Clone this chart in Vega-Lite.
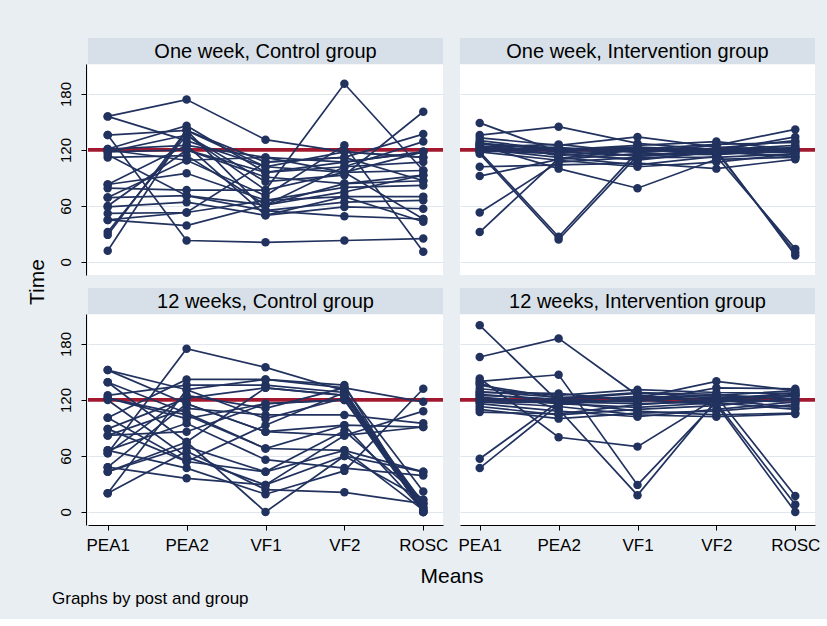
{
  "$schema": "https://vega.github.io/schema/vega-lite/v6.json",
  "background": "#e9eef2",
  "padding": {"left": 27, "top": 38, "right": 10, "bottom": 12},
  "data": {"values": [
    {"post":"One week","group":"Control group","id":1,"PEA1":156,"PEA2":174,"VF1":131,"VF2":118,"ROSC":112},
    {"post":"One week","group":"Control group","id":2,"PEA1":156,"PEA2":130,"VF1":102,"VF2":96,"ROSC":98},
    {"post":"One week","group":"Control group","id":3,"PEA1":136,"PEA2":23,"VF1":21,"VF2":23,"ROSC":25},
    {"post":"One week","group":"Control group","id":4,"PEA1":136,"PEA2":141,"VF1":107,"VF2":112,"ROSC":137},
    {"post":"One week","group":"Control group","id":5,"PEA1":121,"PEA2":146,"VF1":96,"VF2":102,"ROSC":129},
    {"post":"One week","group":"Control group","id":6,"PEA1":121,"PEA2":125,"VF1":112,"VF2":107,"ROSC":118},
    {"post":"One week","group":"Control group","id":7,"PEA1":118,"PEA2":136,"VF1":86,"VF2":93,"ROSC":161},
    {"post":"One week","group":"Control group","id":8,"PEA1":118,"PEA2":120,"VF1":91,"VF2":84,"ROSC":87},
    {"post":"One week","group":"Control group","id":9,"PEA1":112,"PEA2":114,"VF1":61,"VF2":75,"ROSC":93},
    {"post":"One week","group":"Control group","id":10,"PEA1":120,"PEA2":109,"VF1":71,"VF2":125,"ROSC":11},
    {"post":"One week","group":"Control group","id":11,"PEA1":83,"PEA2":95,"VF1":66,"VF2":80,"ROSC":82},
    {"post":"One week","group":"Control group","id":12,"PEA1":79,"PEA2":77,"VF1":77,"VF2":191,"ROSC":98},
    {"post":"One week","group":"Control group","id":13,"PEA1":69,"PEA2":71,"VF1":55,"VF2":64,"ROSC":66},
    {"post":"One week","group":"Control group","id":14,"PEA1":59,"PEA2":64,"VF1":50,"VF2":59,"ROSC":57},
    {"post":"One week","group":"Control group","id":15,"PEA1":52,"PEA2":53,"VF1":66,"VF2":70,"ROSC":70},
    {"post":"One week","group":"Control group","id":16,"PEA1":45,"PEA2":39,"VF1":61,"VF2":102,"ROSC":107},
    {"post":"One week","group":"Control group","id":17,"PEA1":32,"PEA2":136,"VF1":77,"VF2":96,"ROSC":118},
    {"post":"One week","group":"Control group","id":18,"PEA1":29,"PEA2":141,"VF1":55,"VF2":49,"ROSC":46},
    {"post":"One week","group":"Control group","id":19,"PEA1":12,"PEA2":141,"VF1":102,"VF2":118,"ROSC":112},
    {"post":"One week","group":"Control group","id":20,"PEA1":83,"PEA2":125,"VF1":50,"VF2":70,"ROSC":43},
    {"post":"One week","group":"Control group","id":21,"PEA1":115,"PEA2":71,"VF1":61,"VF2":84,"ROSC":93},
    {"post":"One week","group":"Control group","id":22,"PEA1":60,"PEA2":120,"VF1":96,"VF2":107,"ROSC":118},
    {"post":"One week","group":"Control group","id":23,"PEA1":45,"PEA2":53,"VF1":107,"VF2":112,"ROSC":87},
    {"post":"One week","group":"Control group","id":24,"PEA1":69,"PEA2":109,"VF1":112,"VF2":96,"ROSC":46},
    {"post":"One week","group":"Intervention group","id":1,"PEA1":149,"PEA2":118,"VF1":122,"VF2":118,"ROSC":120},
    {"post":"One week","group":"Intervention group","id":2,"PEA1":136,"PEA2":145,"VF1":127,"VF2":120,"ROSC":122},
    {"post":"One week","group":"Intervention group","id":3,"PEA1":133,"PEA2":125,"VF1":134,"VF2":123,"ROSC":120},
    {"post":"One week","group":"Intervention group","id":4,"PEA1":130,"PEA2":120,"VF1":118,"VF2":125,"ROSC":142},
    {"post":"One week","group":"Intervention group","id":5,"PEA1":127,"PEA2":122,"VF1":120,"VF2":116,"ROSC":118},
    {"post":"One week","group":"Intervention group","id":6,"PEA1":124,"PEA2":118,"VF1":114,"VF2":120,"ROSC":125},
    {"post":"One week","group":"Intervention group","id":7,"PEA1":122,"PEA2":116,"VF1":110,"VF2":118,"ROSC":113},
    {"post":"One week","group":"Intervention group","id":8,"PEA1":120,"PEA2":120,"VF1":125,"VF2":129,"ROSC":120},
    {"post":"One week","group":"Intervention group","id":9,"PEA1":118,"PEA2":27,"VF1":118,"VF2":120,"ROSC":118},
    {"post":"One week","group":"Intervention group","id":10,"PEA1":116,"PEA2":24,"VF1":114,"VF2":116,"ROSC":123},
    {"post":"One week","group":"Intervention group","id":11,"PEA1":102,"PEA2":104,"VF1":106,"VF2":100,"ROSC":110},
    {"post":"One week","group":"Intervention group","id":12,"PEA1":92,"PEA2":110,"VF1":116,"VF2":115,"ROSC":120},
    {"post":"One week","group":"Intervention group","id":13,"PEA1":53,"PEA2":107,"VF1":112,"VF2":112,"ROSC":116},
    {"post":"One week","group":"Intervention group","id":14,"PEA1":32,"PEA2":111,"VF1":120,"VF2":118,"ROSC":113},
    {"post":"One week","group":"Intervention group","id":15,"PEA1":125,"PEA2":100,"VF1":79,"VF2":110,"ROSC":112},
    {"post":"One week","group":"Intervention group","id":16,"PEA1":121,"PEA2":112,"VF1":104,"VF2":113,"ROSC":14},
    {"post":"One week","group":"Intervention group","id":17,"PEA1":119,"PEA2":116,"VF1":109,"VF2":118,"ROSC":10},
    {"post":"One week","group":"Intervention group","id":18,"PEA1":126,"PEA2":121,"VF1":123,"VF2":120,"ROSC":7},
    {"post":"One week","group":"Intervention group","id":19,"PEA1":123,"PEA2":126,"VF1":117,"VF2":122,"ROSC":130},
    {"post":"One week","group":"Intervention group","id":20,"PEA1":118,"PEA2":109,"VF1":102,"VF2":107,"ROSC":116},
    {"post":"One week","group":"Intervention group","id":21,"PEA1":128,"PEA2":114,"VF1":121,"VF2":126,"ROSC":128},
    {"post":"One week","group":"Intervention group","id":22,"PEA1":120,"PEA2":123,"VF1":113,"VF2":119,"ROSC":134},
    {"post":"12 weeks","group":"Control group","id":1,"PEA1":152,"PEA2":116,"VF1":86,"VF2":82,"ROSC":91},
    {"post":"12 weeks","group":"Control group","id":2,"PEA1":152,"PEA2":131,"VF1":142,"VF2":133,"ROSC":118},
    {"post":"12 weeks","group":"Control group","id":3,"PEA1":139,"PEA2":106,"VF1":68,"VF2":66,"ROSC":43},
    {"post":"12 weeks","group":"Control group","id":4,"PEA1":63,"PEA2":175,"VF1":155,"VF2":130,"ROSC":5},
    {"post":"12 weeks","group":"Control group","id":5,"PEA1":125,"PEA2":136,"VF1":136,"VF2":128,"ROSC":2},
    {"post":"12 weeks","group":"Control group","id":6,"PEA1":122,"PEA2":100,"VF1":116,"VF2":120,"ROSC":9},
    {"post":"12 weeks","group":"Control group","id":7,"PEA1":120,"PEA2":59,"VF1":29,"VF2":60,"ROSC":13},
    {"post":"12 weeks","group":"Control group","id":8,"PEA1":101,"PEA2":142,"VF1":142,"VF2":136,"ROSC":0},
    {"post":"12 weeks","group":"Control group","id":9,"PEA1":89,"PEA2":122,"VF1":133,"VF2":125,"ROSC":0},
    {"post":"12 weeks","group":"Control group","id":10,"PEA1":82,"PEA2":111,"VF1":104,"VF2":104,"ROSC":95},
    {"post":"12 weeks","group":"Control group","id":11,"PEA1":66,"PEA2":95,"VF1":56,"VF2":47,"ROSC":39},
    {"post":"12 weeks","group":"Control group","id":12,"PEA1":63,"PEA2":125,"VF1":111,"VF2":133,"ROSC":22},
    {"post":"12 weeks","group":"Control group","id":13,"PEA1":48,"PEA2":116,"VF1":86,"VF2":93,"ROSC":91},
    {"post":"12 weeks","group":"Control group","id":14,"PEA1":43,"PEA2":70,"VF1":43,"VF2":66,"ROSC":2},
    {"post":"12 weeks","group":"Control group","id":15,"PEA1":20,"PEA2":65,"VF1":24,"VF2":21,"ROSC":9},
    {"post":"12 weeks","group":"Control group","id":16,"PEA1":20,"PEA2":131,"VF1":100,"VF2":122,"ROSC":0},
    {"post":"12 weeks","group":"Control group","id":17,"PEA1":66,"PEA2":47,"VF1":19,"VF2":44,"ROSC":132},
    {"post":"12 weeks","group":"Control group","id":18,"PEA1":48,"PEA2":36,"VF1":29,"VF2":82,"ROSC":108},
    {"post":"12 weeks","group":"Control group","id":19,"PEA1":101,"PEA2":54,"VF1":43,"VF2":87,"ROSC":13},
    {"post":"12 weeks","group":"Control group","id":20,"PEA1":139,"PEA2":75,"VF1":0,"VF2":60,"ROSC":43},
    {"post":"12 weeks","group":"Control group","id":21,"PEA1":89,"PEA2":54,"VF1":93,"VF2":128,"ROSC":5},
    {"post":"12 weeks","group":"Control group","id":22,"PEA1":122,"PEA2":104,"VF1":68,"VF2":93,"ROSC":2},
    {"post":"12 weeks","group":"Control group","id":23,"PEA1":82,"PEA2":86,"VF1":116,"VF2":120,"ROSC":0},
    {"post":"12 weeks","group":"Control group","id":24,"PEA1":43,"PEA2":75,"VF1":133,"VF2":125,"ROSC":9},
    {"post":"12 weeks","group":"Intervention group","id":1,"PEA1":200,"PEA2":118,"VF1":120,"VF2":122,"ROSC":125},
    {"post":"12 weeks","group":"Intervention group","id":2,"PEA1":166,"PEA2":186,"VF1":125,"VF2":120,"ROSC":128},
    {"post":"12 weeks","group":"Intervention group","id":3,"PEA1":140,"PEA2":147,"VF1":29,"VF2":118,"ROSC":120},
    {"post":"12 weeks","group":"Intervention group","id":4,"PEA1":143,"PEA2":80,"VF1":70,"VF2":122,"ROSC":117},
    {"post":"12 weeks","group":"Intervention group","id":5,"PEA1":138,"PEA2":110,"VF1":18,"VF2":120,"ROSC":126},
    {"post":"12 weeks","group":"Intervention group","id":6,"PEA1":129,"PEA2":123,"VF1":122,"VF2":140,"ROSC":130},
    {"post":"12 weeks","group":"Intervention group","id":7,"PEA1":126,"PEA2":120,"VF1":118,"VF2":133,"ROSC":132},
    {"post":"12 weeks","group":"Intervention group","id":8,"PEA1":123,"PEA2":116,"VF1":112,"VF2":117,"ROSC":110},
    {"post":"12 weeks","group":"Intervention group","id":9,"PEA1":120,"PEA2":118,"VF1":108,"VF2":104,"ROSC":106},
    {"post":"12 weeks","group":"Intervention group","id":10,"PEA1":118,"PEA2":113,"VF1":104,"VF2":102,"ROSC":105},
    {"post":"12 weeks","group":"Intervention group","id":11,"PEA1":116,"PEA2":108,"VF1":102,"VF2":110,"ROSC":118},
    {"post":"12 weeks","group":"Intervention group","id":12,"PEA1":113,"PEA2":104,"VF1":110,"VF2":114,"ROSC":122},
    {"post":"12 weeks","group":"Intervention group","id":13,"PEA1":110,"PEA2":100,"VF1":106,"VF2":108,"ROSC":115},
    {"post":"12 weeks","group":"Intervention group","id":14,"PEA1":107,"PEA2":105,"VF1":115,"VF2":120,"ROSC":112},
    {"post":"12 weeks","group":"Intervention group","id":15,"PEA1":57,"PEA2":118,"VF1":116,"VF2":118,"ROSC":124},
    {"post":"12 weeks","group":"Intervention group","id":16,"PEA1":47,"PEA2":115,"VF1":122,"VF2":125,"ROSC":130},
    {"post":"12 weeks","group":"Intervention group","id":17,"PEA1":125,"PEA2":121,"VF1":127,"VF2":124,"ROSC":17},
    {"post":"12 weeks","group":"Intervention group","id":18,"PEA1":121,"PEA2":119,"VF1":124,"VF2":117,"ROSC":8},
    {"post":"12 weeks","group":"Intervention group","id":19,"PEA1":118,"PEA2":117,"VF1":120,"VF2":115,"ROSC":0},
    {"post":"12 weeks","group":"Intervention group","id":20,"PEA1":132,"PEA2":125,"VF1":131,"VF2":128,"ROSC":127},
    {"post":"12 weeks","group":"Intervention group","id":21,"PEA1":136,"PEA2":122,"VF1":128,"VF2":126,"ROSC":120},
    {"post":"12 weeks","group":"Intervention group","id":22,"PEA1":128,"PEA2":127,"VF1":119,"VF2":123,"ROSC":125}
  ]},
  "transform": [{"fold": ["PEA1","PEA2","VF1","VF2","ROSC"], "as": ["Means","Time"]}],
  "facet": {
    "row": {"field": "post", "type": "nominal", "title": "Time", "sort": ["One week","12 weeks"],
      "header": {"labels": false, "titleOrient": "left", "titleFontSize": 21, "titleFontWeight": "normal", "titleFont": "Liberation Sans", "titleColor": "#000000", "titlePadding": 0}},
    "column": {"field": "group", "type": "nominal", "title": "Means", "sort": ["Control group","Intervention group"],
      "header": {"labels": false, "titleOrient": "bottom", "titleFontSize": 21, "titleFontWeight": "normal", "titleFont": "Liberation Sans", "titleColor": "#000000", "titlePadding": 3}},
    "align": "all"
  },
  "spacing": 13,
  "title": {"text": "Graphs by post and group", "orient": "bottom", "anchor": "start", "fontSize": 17, "fontWeight": "normal", "font": "Liberation Sans", "color": "#000000", "dx": 25, "offset": 4},
  "spec": {
    "width": 355,
    "height": 237,
    "layer": [
      {
        "transform": [{"aggregate": [{"op": "count", "as": "n"}], "groupby": ["post","group"]}],
        "mark": {"type": "rect", "color": "#d7e0e8"},
        "encoding": {
          "y": {"datum": 212, "type": "quantitative", "scale": {"domain": [-14, 240], "nice": false, "zero": false},
            "axis": {"title": null, "values": [0,60,120,180], "labelAngle": 270, "labelAlign": "center", "labelBaseline": "bottom", "grid": true, "gridColor": "#e0e6eb", "domainColor": "#000000", "domainDash": [211, 60], "tickColor": "#000000", "tickSize": 5, "labelPadding": 8, "labelFontSize": 15, "zindex": 0}},
          "y2": {"datum": 240}
        }
      },
      {
        "transform": [{"aggregate": [{"op": "count", "as": "n"}], "groupby": ["post","group"]}],
        "mark": {"type": "rule", "color": "#a2182f", "strokeWidth": 3.8},
        "encoding": {"y": {"datum": 120, "type": "quantitative"}}
      },
      {
        "mark": {"type": "line", "color": "#22325f", "strokeWidth": 1.7},
        "encoding": {
          "x": {"field": "Means", "type": "ordinal", "sort": ["PEA1","PEA2","VF1","VF2","ROSC"],
            "scale": {"type": "point", "padding": 0.25},
            "axis": {"title": null, "labelAngle": 0, "grid": false, "domainColor": "#000000", "tickColor": "#000000", "tickSize": 5, "labelPadding": 7, "labelFontSize": 17, "zindex": 0}},
          "y": {"field": "Time", "type": "quantitative"},
          "detail": {"field": "id"}
        }
      },
      {
        "mark": {"type": "circle", "color": "#22325f", "size": 72, "opacity": 1},
        "encoding": {
          "x": {"field": "Means", "type": "ordinal", "sort": ["PEA1","PEA2","VF1","VF2","ROSC"]},
          "y": {"field": "Time", "type": "quantitative"}
        }
      },
      {
        "transform": [{"aggregate": [{"op": "count", "as": "n"}], "groupby": ["post","group"]},
                      {"calculate": "datum.post + ', ' + datum.group", "as": "label"}],
        "mark": {"type": "text", "fontSize": 20, "font": "Liberation Sans", "color": "#000000", "baseline": "middle", "dy": 1},
        "encoding": {"y": {"datum": 226, "type": "quantitative"}, "text": {"field": "label"}}
      }
    ]
  },
  "config": {
    "font": "Liberation Sans",
    "view": {"stroke": null, "fill": "#ffffff"},
    "axis": {"labelColor": "#000000", "titleColor": "#000000", "titleFontWeight": "normal", "labelFont": "Liberation Sans", "titleFont": "Liberation Sans"}
  }
}
